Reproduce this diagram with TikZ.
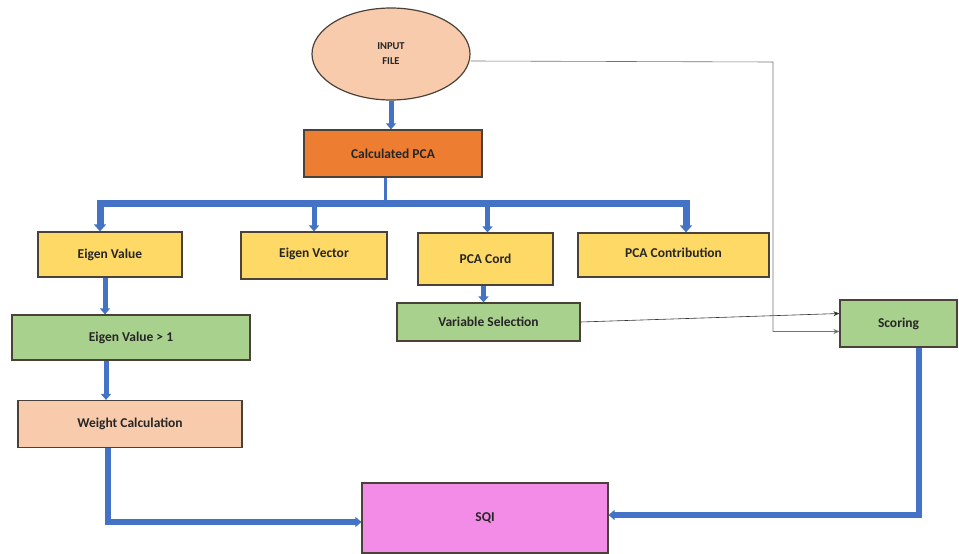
\documentclass[tikz,border=0pt]{standalone}
\usepackage{fontspec}
\setmainfont{Carlito}
\usepackage{tikz}
\usetikzlibrary{positioning,arrows.meta,shapes.geometric}
\definecolor{FlowBlue}{HTML}{4472C4}
\definecolor{FlowPeach}{HTML}{F8CBAD}
\definecolor{FlowOrange}{HTML}{ED7D31}
\definecolor{FlowYellow}{HTML}{FFD966}
\definecolor{FlowGreen}{HTML}{A9D18E}
\definecolor{FlowPink}{HTML}{F28CE6}
\definecolor{FlowEdge}{HTML}{4A4238}

\begin{document}
\begin{tikzpicture}[
  x=1pt,y=-1pt,
  box/.style={draw=FlowEdge,line width=1.2pt,align=center,inner sep=0pt,
    font=\fontsize{13.5}{15}\selectfont\bfseries,text=black!85},
  fat/.style={draw=FlowBlue,line width=5pt,-{Triangle[width=10pt,length=6pt]}},
  bus/.style={draw=FlowBlue,line width=7pt,{Triangle[width=12pt,length=7pt]}-{Triangle[width=12pt,length=7pt]}},
  flow/.style={draw=FlowBlue,line width=6pt,-{Triangle[width=10pt,length=6pt]}},
  link/.style={draw=black!80,line width=0.6pt,-{Stealth[length=6pt,width=5pt]}}
]
  \useasboundingbox (0,0) rectangle (959,554);
  \node[box,ellipse,fill=FlowPeach,minimum width=158pt,minimum height=92pt,
    font=\fontsize{10.5}{15}\selectfont\bfseries] (input) at (391,54) {INPUT\\FILE};
  \node[box,fill=FlowOrange,minimum width=178pt,minimum height=47pt] (calc) at (393,153.5) {Calculated PCA};
  \node[box,fill=FlowYellow,minimum width=144pt,minimum height=45pt] (eigval) at (110,254.5) {Eigen Value};
  \node[box,fill=FlowYellow,minimum width=146pt,minimum height=47pt] (eigvec) at (314,255.5) {\raisebox{6pt}{Eigen Vector}};
  \node[box,fill=FlowYellow,minimum width=135pt,minimum height=52pt] (pcacord) at (485.5,259) {PCA Cord};
  \node[box,fill=FlowYellow,minimum width=191pt,minimum height=44pt] (pcacontr) at (673.5,255) {\raisebox{4pt}{PCA Contribution}};
  \node[box,fill=FlowGreen,minimum width=183pt,minimum height=38pt] (varsel) at (488.5,322) {Variable Selection};
  \node[box,fill=FlowGreen,minimum width=117pt,minimum height=47pt] (scoring) at (898.5,323.5) {Scoring};
  \node[box,fill=FlowGreen,minimum width=238pt,minimum height=45pt] (eigone) at (131,337.5) {Eigen Value > 1};
  \node[box,fill=FlowPeach,minimum width=224pt,minimum height=47pt] (weight) at (130,424) {Weight Calculation};
  \node[box,fill=FlowPink,minimum width=246pt,minimum height=70pt] (sqi) at (485,518) {SQI};
  \coordinate (busL) at (100,203);
  \coordinate (busR) at (686,203);
  \coordinate (turn) at (773,62);
  % main flow
  \draw[fat] (input.south) -- (input.south |- calc.north);
  \draw[draw=FlowBlue,line width=3pt] ([xshift=-8pt]calc.south) -- ([xshift=-8pt]calc.south |- busL);
  \draw[bus] (busL |- eigval.north) -- (busL) -- (busR) -- (busR |- pcacontr.north);
  \draw[fat] (eigvec.north |- busL) -- (eigvec.north);
  \draw[fat] ([xshift=2pt]pcacord.north |- busL) -- ([xshift=2pt]pcacord.north);
  \draw[fat] ([xshift=-5pt]eigval.south) -- ([xshift=-5pt]eigval.south |- eigone.north);
  \draw[fat] ([xshift=-4pt]eigval.south |- eigone.south) -- ([xshift=-4pt]eigval.south |- weight.north);
  \draw[fat] ([xshift=-2pt]pcacord.south) -- ([xshift=-2pt]pcacord.south |- varsel.north);
  \draw[flow] ([xshift=-22pt]weight.south) |- ([yshift=-4pt]sqi.west);
  \draw[flow] ([xshift=20pt]scoring.south) |- ([yshift=3pt]sqi.east);
  % thin links to scoring
  \draw[link] (varsel.east) -- ([yshift=10pt]scoring.west);
  \draw[link,draw=black!55] ([yshift=-7pt]input.east) -- (turn) |- ([yshift=-8pt]scoring.west);
\end{tikzpicture}
\end{document}
